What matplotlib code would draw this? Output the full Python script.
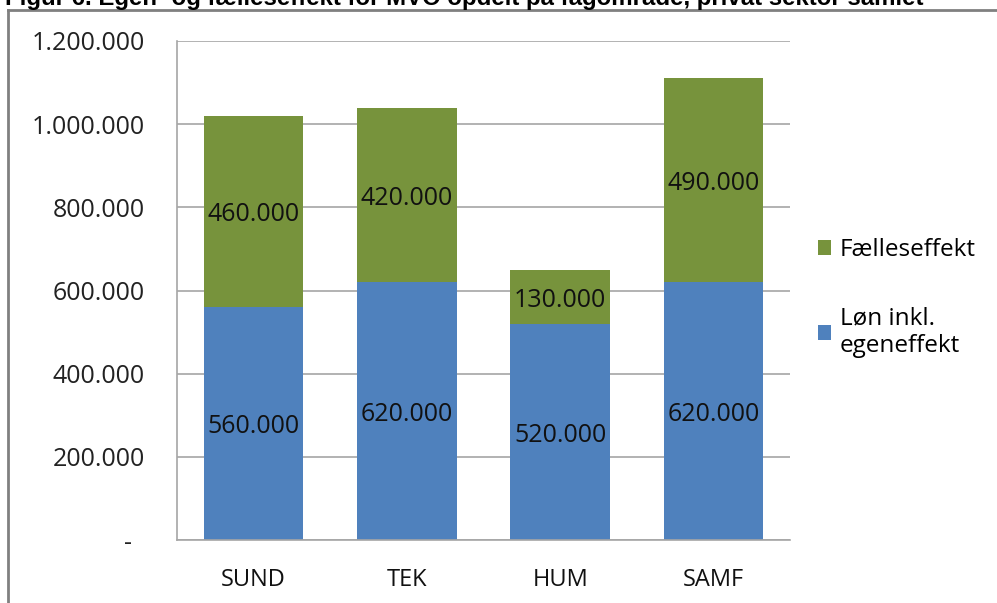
import matplotlib.pyplot as plt
from matplotlib.lines import Line2D

categories = ["SUND", "TEK", "HUM", "SAMF"]
loen = [560000, 620000, 520000, 620000]
faelles = [460000, 420000, 130000, 490000]
yticks = [0, 200000, 400000, 600000, 800000, 1000000, 1200000]
ytick_labels = ["-  ", "200.000", "400.000", "600.000", "800.000", "1.000.000", "1.200.000"]

blue = "#4f81bd"
green = "#77933c"
grid = "#a6a6a6"


def dk(v):
    return f"{v:,.0f}".replace(",", ".")


def main() -> None:
    plt.rcParams["font.family"] = ["Open Sans", "DejaVu Sans"]
    fig = plt.figure(figsize=(9.97, 6.03), dpi=100, facecolor="white")
    ax = fig.add_axes([177 / 997, 1 - 540 / 603, (790 - 177) / 997, (540 - 41) / 603])

    x = range(len(categories))
    ax.bar(x, loen, width=0.65, color=blue, label="Løn inkl.\negeneffekt", zorder=2)
    ax.bar(x, faelles, width=0.65, bottom=loen, color=green, label="Fælleseffekt", zorder=2)

    for i in x:
        ax.text(i, loen[i] / 2 - 8000, dk(loen[i]), ha="center", va="center", fontsize=18,
                color="#111111", zorder=3)
        ax.text(i, loen[i] + faelles[i] / 2 - 8000, dk(faelles[i]), ha="center", va="center",
                fontsize=18, color="#111111", zorder=3)

    ax.set_xlim(-0.5, len(categories) - 0.5)
    ax.set_ylim(0, 1200000)
    ax.set_yticks(yticks)
    ax.set_yticklabels(ytick_labels, fontsize=18, color="#222222")
    ax.set_xticks(list(x))
    ax.set_xticklabels(categories, fontsize=17, color="#111111")
    ax.tick_params(axis="y", length=0, pad=23)
    ax.tick_params(axis="x", length=0, pad=20)
    ax.grid(axis="y", color=grid, linewidth=1.2, zorder=0)
    for side in ("top", "right"):
        ax.spines[side].set_visible(False)
    for side in ("left", "bottom"):
        ax.spines[side].set_color(grid)
        ax.spines[side].set_linewidth(1.2)

    handles, labels = ax.get_legend_handles_labels()
    fig.legend(handles[::-1], labels[::-1], loc="center left", bbox_to_anchor=(796 / 997, 1 - 298 / 603),
               frameon=False, fontsize=17.5, handlelength=0.55, handleheight=0.55, handletextpad=0.35,
               labelspacing=1.8)

    # outer frame
    fig.add_artist(Line2D([8 / 997, 8 / 997], [0, 1 - 10 / 603], color="#808080", linewidth=2,
                          transform=fig.transFigure))
    fig.add_artist(Line2D([8 / 997, 1], [1 - 10 / 603, 1 - 10 / 603], color="#808080", linewidth=2,
                          transform=fig.transFigure))
    fig.text(5 / 997, 1 - 5 / 603,
             "Figur 6. Egen- og fælleseffekt for MVO opdelt på fagområde, privat sektor samlet",
             fontsize=17.3, fontweight="bold", family="Liberation Sans", ha="left", va="baseline")

    fig.savefig("out.png", dpi=100, facecolor="white")
    plt.close(fig)


if __name__ == "__main__":
    main()
